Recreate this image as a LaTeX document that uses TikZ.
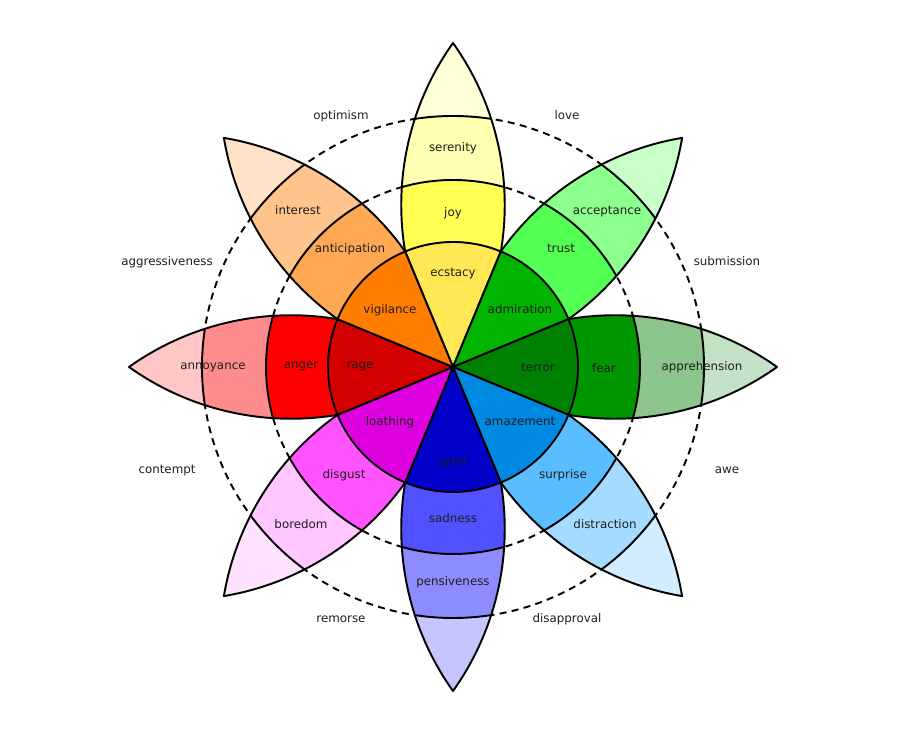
\documentclass[tikz,border=0pt]{standalone}
\usepackage{fontspec}
\setmainfont{DejaVu Sans}
\definecolor{JoyA}{HTML}{FFE854}
\definecolor{JoyB}{HTML}{FFFF54}
\definecolor{JoyC}{HTML}{FFFFB1}
\definecolor{JoyT}{HTML}{FFFFD8}
\definecolor{TrustA}{HTML}{00B400}
\definecolor{TrustB}{HTML}{54FF54}
\definecolor{TrustC}{HTML}{8CFF8C}
\definecolor{TrustT}{HTML}{C8FFC8}
\definecolor{FearA}{HTML}{008000}
\definecolor{FearB}{HTML}{009600}
\definecolor{FearC}{HTML}{8CC68C}
\definecolor{FearT}{HTML}{C6E2C6}
\definecolor{SurpA}{HTML}{0089E0}
\definecolor{SurpB}{HTML}{59BDFF}
\definecolor{SurpC}{HTML}{A5DBFF}
\definecolor{SurpT}{HTML}{D2EDFF}
\definecolor{SadA}{HTML}{0000C8}
\definecolor{SadB}{HTML}{5151FF}
\definecolor{SadC}{HTML}{8C8CFF}
\definecolor{SadT}{HTML}{C6C6FF}
\definecolor{DisgA}{HTML}{DE00DE}
\definecolor{DisgB}{HTML}{FF54FF}
\definecolor{DisgC}{HTML}{FFC6FF}
\definecolor{DisgT}{HTML}{FFE2FF}
\definecolor{AngerA}{HTML}{D40000}
\definecolor{AngerB}{HTML}{FF0000}
\definecolor{AngerC}{HTML}{FF8C8C}
\definecolor{AngerT}{HTML}{FFC6C6}
\definecolor{AntA}{HTML}{FF7D00}
\definecolor{AntB}{HTML}{FFA854}
\definecolor{AntC}{HTML}{FFC48C}
\definecolor{AntT}{HTML}{FFE2C8}
\definecolor{LabelInk}{HTML}{1E1E1E}

\begin{document}
\begin{tikzpicture}[
    x=0.02cm, y=0.02cm,
    band/.style={draw=black, line width=1.1pt, line join=round},
    ring/.style={draw=black, line width=1.1pt, dash pattern=on 4pt off 3pt},
    emo/.style={font=\fontsize{6.75pt}{8pt}\selectfont, text=LabelInk, inner sep=0pt, anchor=base, yshift=-1.8pt}
]
    \useasboundingbox (-453,-365) rectangle (447,367);

    % Dashed rings (behind the petals)
    \draw[ring] (0,0) circle[radius=187];
    \draw[ring] (0,0) circle[radius=251];

    % Petals: outer bands
    \foreach \ang/\cb/\cc/\ct in {90/JoyB/JoyC/JoyT, 45/TrustB/TrustC/TrustT,
        0/FearB/FearC/FearT, -45/SurpB/SurpC/SurpT, -90/SadB/SadC/SadT,
        -135/DisgB/DisgC/DisgT, 180/AngerB/AngerC/AngerT, 135/AntB/AntC/AntT}{
      \begin{scope}[rotate=\ang]
        \begin{scope}
          \clip (0,0) arc[start angle=125.43, end angle=54.57, radius=279.5]
                arc[start angle=-54.57, end angle=-125.43, radius=279.5] -- cycle;
          \fill[\ct] (0,0) circle[radius=330];
          \filldraw[band, fill=\cc] (0,0) circle[radius=251];
          \filldraw[band, fill=\cb] (0,0) circle[radius=187];
        \end{scope}
        \draw[band] (0,0) arc[start angle=125.43, end angle=54.57, radius=279.5]
              arc[start angle=-54.57, end angle=-125.43, radius=279.5] -- cycle;
      \end{scope}
    }

    % Inner circle wedges
    \foreach \ang/\ca in {90/JoyA, 45/TrustA, 0/FearA, -45/SurpA, -90/SadA,
        -135/DisgA, 180/AngerA, 135/AntA}
      \filldraw[band, fill=\ca] (0,0) -- (\ang-22.5:125)
          arc[start angle=\ang-22.5, end angle=\ang+22.5, radius=125] -- cycle;

    % Inner labels
    \node[emo] (ecstacy) at (0,94) {ecstacy};
    \node[emo] (admiration) at (67,57) {admiration};
    \node[emo] (terror) at (85,-1) {terror};
    \node[emo] (amazement) at (67,-55) {amazement};
    \node[emo] (grief) at (0,-95) {grief};
    \node[emo] (loathing) at (-63,-55) {loathing};
    \node[emo] (rage) at (-93,2) {rage};
    \node[emo] (vigilance) at (-63,57) {vigilance};

    % Middle band labels
    \node[emo] (joy) at (0,154) {joy};
    \node[emo] (trust) at (108,118) {trust};
    \node[emo] (fear) at (151,-2) {fear};
    \node[emo] (surprise) at (110,-108) {surprise};
    \node[emo] (sadness) at (0,-152) {sadness};
    \node[emo] (disgust) at (-109,-108) {disgust};
    \node[emo] (anger) at (-152,2) {anger};
    \node[emo] (anticipation) at (-103,118) {anticipation};

    % Outer band labels
    \node[emo] (serenity) at (0,219) {serenity};
    \node[emo] (acceptance) at (154,156) {acceptance};
    \node[emo] (apprehension) at (249,0) {apprehension};
    \node[emo] (distraction) at (152,-158) {distraction};
    \node[emo] (pensiveness) at (0,-215) {pensiveness};
    \node[emo] (boredom) at (-152,-158) {boredom};
    \node[emo] (annoyance) at (-240,1) {annoyance};
    \node[emo] (interest) at (-155,156) {interest};

    % Combinations between petals
    \node[emo] (optimism) at (-112,251) {optimism};
    \node[emo] (love) at (114,251) {love};
    \node[emo] (submission) at (274,105) {submission};
    \node[emo] (awe) at (274,-103) {awe};
    \node[emo] (disapproval) at (114,-252) {disapproval};
    \node[emo] (remorse) at (-112,-252) {remorse};
    \node[emo] (contempt) at (-286,-103) {contempt};
    \node[emo] (aggressiveness) at (-286,105) {aggressiveness};
\end{tikzpicture}
\end{document}
